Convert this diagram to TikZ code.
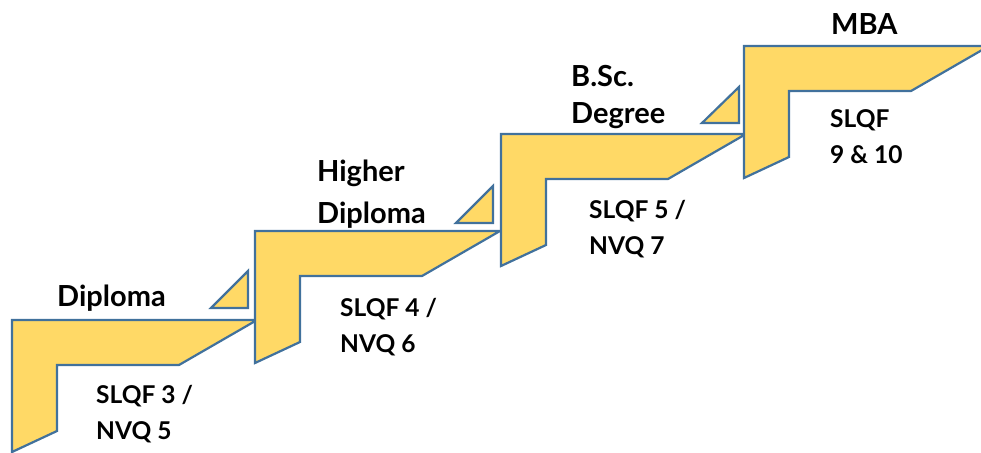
\documentclass[tikz,border=0pt]{standalone}
\usepackage{fontspec}
\setmainfont{Lato}
\definecolor{stepfill}{HTML}{FFD966}
\definecolor{stepline}{HTML}{41719C}
\begin{document}
\begin{tikzpicture}[x=1pt,y=-1pt,
  stepshape/.style={fill=stepfill,draw=stepline,line width=2.2pt,line join=miter},
  headtxt/.style={inner sep=0pt,anchor=base west,align=left,font=\bfseries\fontsize{29}{42}\selectfont},
  lbltxt/.style={inner sep=0pt,anchor=base west,align=left,font=\bfseries\fontsize{24.5}{35.5}\selectfont}]
\useasboundingbox (0,0) rectangle (981,452);
\clip (0,0) rectangle (981,452);
% steps
\foreach \L/\T/\n in {12/320/1,255/231/2,501/134/3,744/46/4}{
  \draw[stepshape] (\L,\T) -- ++(245,0) -- ++(-78,45) -- ++(-122,0) -- ++(0,66) -- ++(-45,21) -- cycle;
}
% triangles
\draw[stepshape] (211,308) -- (248,308) -- (248,271) -- cycle;
\draw[stepshape] (456,223) -- (493,223) -- (493,186) -- cycle;
\draw[stepshape] (702,123) -- (739,123) -- (739,87) -- cycle;
% labels (multi-line nodes: anchor at baseline of last line)
\node[headtxt] (h1) at (57,306) {Diploma};
\node[lbltxt] (l1) at (96,439) {SLQF 3 /\\NVQ 5};
\node[headtxt] (h2) at (317,223) {Higher\\Diploma};
\node[lbltxt] (l2) at (340,352) {SLQF 4 /\\NVQ 6};
\node[headtxt,font=\bfseries\fontsize{29}{37}\selectfont] (h3) at (571,123) {B.Sc.\\Degree};
\node[lbltxt] (l3) at (589,254) {SLQF 5 /\\NVQ 7};
\node[headtxt] (h4) at (831,35) {MBA};
\node[lbltxt] (l4) at (830,163) {SLQF\\9 \& 10};
\end{tikzpicture}
\end{document}
